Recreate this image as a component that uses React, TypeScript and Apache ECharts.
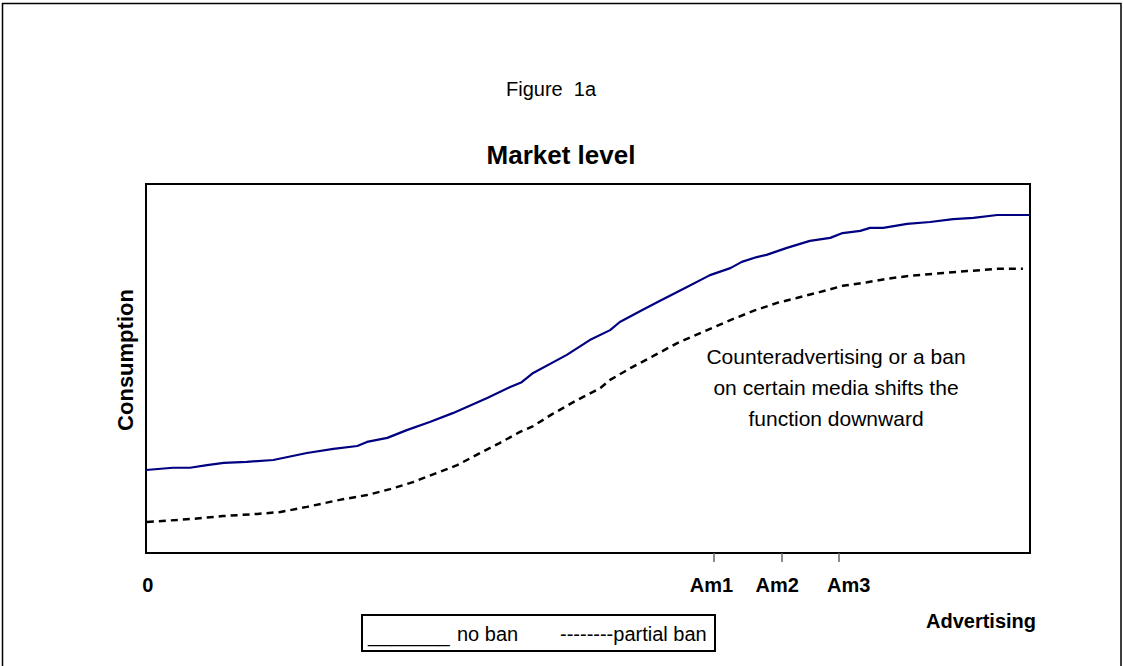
import React, { useEffect, useRef } from "react";
import * as echarts from "echarts";

// x: advertising (0..100 over the plot width), y: consumption (0..100 over plot height)
const noBanX = [0, 3.05, 4.98, 6.9, 8.8, 11.4, 14.4, 18.2, 21.2, 23.9, 25.0, 27.3, 29.5, 32.1, 34.7, 38.6, 41.2, 42.5, 43.8, 47.6, 50.2, 52.5, 53.6, 56.2, 58.1, 61.2, 63.8, 66.1, 67.4, 69.1, 70.2, 72.5, 75.1, 77.4, 78.8, 80.8, 81.9, 83.4, 86.1, 88.7, 91.3, 93.6, 96.3, 100];
const noBanY = [22.5, 23.1, 23.1, 23.8, 24.4, 24.7, 25.2, 27.1, 28.2, 29.0, 30.1, 31.2, 33.3, 35.5, 37.9, 42.0, 45.0, 46.3, 48.8, 53.7, 57.7, 60.4, 62.6, 65.9, 68.3, 72.1, 75.3, 77.2, 78.9, 80.2, 80.8, 82.7, 84.6, 85.4, 86.7, 87.3, 88.1, 88.1, 89.2, 89.7, 90.5, 90.8, 91.6, 91.6];

const partialX = [0.1, 5.0, 8.7, 12.6, 15.2, 18.2, 21.9, 25.0, 27.6, 30.2, 32.9, 35.2, 37.4, 40.0, 42.3, 43.8, 46.0, 48.8, 51.4, 52.5, 54.8, 57.4, 60.1, 63.0, 66.1, 68.7, 71.4, 73.6, 76.2, 78.8, 81.6, 83.8, 86.4, 90.2, 92.9, 96.3, 99.2];
const partialY = [8.4, 9.2, 10.0, 10.6, 11.1, 12.5, 14.4, 15.7, 17.3, 19.2, 21.7, 23.8, 26.6, 29.8, 32.8, 34.4, 37.7, 41.5, 44.7, 46.9, 50.1, 53.4, 56.9, 59.9, 63.1, 65.6, 67.8, 69.1, 70.7, 72.4, 73.4, 74.3, 75.1, 75.9, 76.4, 77.0, 77.0];

const tickValues = [64.25, 71.9, 78.4];
const labelValues = [0.2, 63.97, 71.4, 79.5];
const labelTexts = ["0", "Am1", "Am2", "Am3"];

const figureText = "Figure  1a";
const titleText = "Market level";
const xName = "Advertising";
const yName = "Consumption";
const noteLines = ["Counteradvertising or a ban", "on certain media shifts the", "function downward"];
const legendTexts = ["_______", "no ban", "--------partial ban"];

const FONT = "'Liberation Sans', Arial, sans-serif";

export default function App() {
  const ref = useRef<HTMLDivElement>(null);
  useEffect(() => {
    if (!ref.current) return;
    const chart = echarts.init(ref.current, undefined, { renderer: "svg" });
    const pair = (xs: number[], ys: number[]) => xs.map((x, i) => [x, ys[i]]);
    chart.setOption({
      animation: false,
      backgroundColor: "#ffffff",
      textStyle: { fontFamily: FONT },
      grid: {
        left: 146,
        right: 93,
        top: 184,
        bottom: 113,
        show: true,
        borderColor: "#000000",
        borderWidth: 2,
        backgroundColor: "transparent",
      },
      xAxis: {
        type: "value",
        min: 0,
        max: 100,
        splitLine: { show: false },
        axisLine: { show: false },
        axisTick: {
          show: true,
          customValues: tickValues,
          length: 9,
          lineStyle: { color: "#666666", width: 1.5 },
        },
        axisLabel: {
          show: true,
          customValues: labelValues,
          formatter: (v: number) => {
            const i = labelValues.findIndex((lv) => Math.abs(lv - v) < 1e-6);
            return i >= 0 ? labelTexts[i] : "";
          },
          margin: 22,
          color: "#000000",
          fontWeight: "bold",
          fontSize: 20,
          fontFamily: FONT,
        },
      },
      yAxis: {
        type: "value",
        min: 0,
        max: 100,
        show: false,
      },
      series: [
        {
          type: "line",
          name: "no ban",
          data: pair(noBanX, noBanY),
          showSymbol: false,
          symbol: "none",
          lineStyle: { color: "#000080", width: 2.2 },
        },
        {
          type: "line",
          name: "partial ban",
          data: pair(partialX, partialY),
          showSymbol: false,
          symbol: "none",
          lineStyle: { color: "#000000", width: 2.5, type: [7, 5] },
        },
      ],
      graphic: [
        {
          type: "rect",
          shape: { x: 2.5, y: 3.5, width: 1118.5, height: 700 },
          style: { fill: "none", stroke: "#000000", lineWidth: 1.5 },
          silent: true,
        },
        {
          type: "text",
          x: 551,
          y: 89,
          style: { text: figureText, font: `20px ${FONT}`, fill: "#000", textAlign: "center", textVerticalAlign: "middle" },
        },
        {
          type: "text",
          x: 561,
          y: 155,
          style: { text: titleText, font: `bold 26px ${FONT}`, fill: "#000", textAlign: "center", textVerticalAlign: "middle" },
        },
        {
          type: "text",
          x: 125,
          y: 360,
          rotation: Math.PI / 2,
          style: { text: yName, font: `bold 22px ${FONT}`, fill: "#000", textAlign: "center", textVerticalAlign: "middle" },
        },
        {
          type: "text",
          x: 981,
          y: 621,
          style: { text: xName, font: `bold 20px ${FONT}`, fill: "#000", textAlign: "center", textVerticalAlign: "middle" },
        },
        ...noteLines.map((t, i) => ({
          type: "text",
          x: 836,
          y: 356 + i * 31,
          style: { text: t, font: `21px ${FONT}`, fill: "#000", textAlign: "center", textVerticalAlign: "middle" },
        })),
        {
          type: "rect",
          shape: { x: 362, y: 615, width: 353, height: 36 },
          style: { fill: "#fff", stroke: "#000000", lineWidth: 2 },
        },
        {
          type: "text",
          x: 368,
          y: 634,
          style: { text: legendTexts[0], font: `21px ${FONT}`, fill: "#000", textAlign: "left", textVerticalAlign: "middle" },
        },
        {
          type: "text",
          x: 457,
          y: 634,
          style: { text: legendTexts[1], font: `20px ${FONT}`, fill: "#000", textAlign: "left", textVerticalAlign: "middle" },
        },
        {
          type: "text",
          x: 560,
          y: 634,
          style: { text: legendTexts[2], font: `20px ${FONT}`, fill: "#000", textAlign: "left", textVerticalAlign: "middle" },
        },
      ],
    });
    return () => chart.dispose();
  }, []);
  return (
    <div
      ref={ref}
      style={{ position: "fixed", left: 0, top: 0, width: 1123, height: 666, background: "#fff" }}
    />
  );
}
